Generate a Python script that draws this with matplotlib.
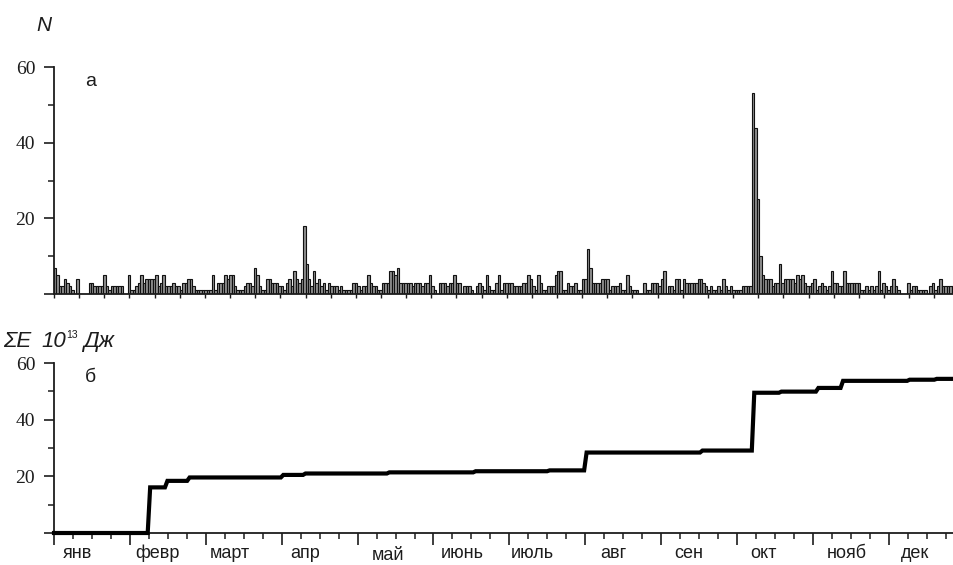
import numpy as np
import matplotlib
matplotlib.use('Agg')
import matplotlib.pyplot as plt

# ---------------- data ----------------
counts_d000 = [7,5,2,2,4,3,2,1,0,4, 0,0,0,0,3,3,2,2,2,2, 5,2,1,2,2,2,2,2,0,0,
               5,1,1,2,3,5,3,4,4,4, 4,5,2,3,5,2,2,2,3,2, 2,1,3,3,4,4,2,1,1,1]
counts_d060 = [1,1,1,1,5,1,3,3,3,5, 4,5,5,2,1,1,1,2,3,3, 2,7,5,2,1,1,4,4,3,3,
               3,2,2,1,3,4,2,6,4,3, 4,18,8,4,2,6,3,4,2,3, 1,3,2,2,2,1]
counts_d116 = [2,1,1,1,1,3,3,2,1,2, 2,5,3,2,2,1,1,3,3,3, 6,6,5,7,3,3,3,3,3,2,
               3,3,3,2,3,3,5,2,1,0, 3,3,3,2,3,3,5,3,3,0, 2,2,2,1,0,2,3,2,1,5,
               2,1,1,3,5]
counts_d181 = [1,3,3,3,3,2,2,2,2,3, 3,5,4,2,1,5,3,1,1,2, 2,2,5,6,6,1,1,3,2,2,
               3,1,1,4,4,12,7,3,3,3, 3,4,4,4,1,2,2,2,3,1, 1,5,2,1,1,1,0,0,3,1, 1]
counts_d242 = [3,3,3,2,4,6,0,2,2,1, 4,4,1,4,3,3,3,3,3,4, 4,3,2,1,2,1,1,2,1,4,
               2,1,2,1,1,1,1,2,2,2, 2,53,44,25,10,5,4,4,4,2, 3,3,8,3,4,4,4,4,3,5, 4]
counts_d303 = [5,3,2,2,3,4,1,2,3,2, 1,2,6,3,3,2,2,6,3,3, 3,3,3,3,1,1,2,1,2,1,
               2,6,1,3,2,1,2,4,2,1, 0,0,0,3,1,2,2,1,1,1, 1,0,2,3,1,2,4,2,2,2, 2,2]
daily_counts = counts_d000 + counts_d060 + counts_d116 + counts_d181 + counts_d242 + counts_d303

# energy events (day of year, energy in 10^13 J)
event_days = [38, 45, 54, 92, 101, 135, 170, 200, 215, 262, 283, 294, 309, 319, 346, 357]
event_energy = [16.1, 2.3, 1.2, 0.9, 0.5, 0.4, 0.4, 0.3, 6.3, 0.7, 20.4, 0.4, 1.3, 2.5, 0.4, 0.3]

month_labels = ['янв', 'февр', 'март', 'апр', 'май', 'июнь',
                'июль', 'авг', 'сен', 'окт', 'нояб', 'дек']

# ---------------- layout helpers ----------------
W, H = 954, 565
N_DAYS = len(daily_counts)
fig = plt.figure(figsize=(W / 100, H / 100), dpi=100)
fig.patch.set_facecolor('white')

def px_axes(l, t, r, b):
    return [l / W, 1 - b / H, (r - l) / W, (b - t) / H]

SANS = ['Liberation Sans', 'DejaVu Sans']
SERIF = ['Liberation Serif', 'DejaVu Serif']
INK = '#1c1c1c'

ax1 = fig.add_axes(px_axes(54, 67, 954, 294))
ax2 = fig.add_axes(px_axes(54, 363, 954, 533))

def style_axes(ax):
    for s in ('top', 'right'):
        ax.spines[s].set_visible(False)
    for s in ('left', 'bottom'):
        ax.spines[s].set_linewidth(1.3)
        ax.spines[s].set_color(INK)
    ax.set_xlim(0, N_DAYS)
    ax.set_ylim(0, 60)
    ax.set_yticks([0, 20, 40, 60])
    ax.set_yticklabels(['', '20', '40', '60'], fontfamily=SERIF, fontsize=14, color=INK)
    ax.set_yticks([10, 30, 50], minor=True)
    ax.tick_params(axis='y', which='major', direction='out', length=7.5, width=1.2, pad=6, color=INK)
    ax.tick_params(axis='y', which='minor', direction='out', length=4.3, width=1.1, color=INK)

# ---------------- panel a ----------------
style_axes(ax1)
days = np.arange(N_DAYS)
ax1.bar(days, daily_counts, width=1.0, align='edge', color='#8e8e8e',
        edgecolor='#111111', linewidth=0.8)
ax1.set_xticks(np.arange(0, N_DAYS + 1, 10.2))
ax1.set_xticklabels([])
ax1.tick_params(axis='x', which='major', direction='out', length=3, width=1.0, color=INK)

# ---------------- panel b ----------------
style_axes(ax2)
daily_energy = np.zeros(N_DAYS)
for d, e in zip(event_days, event_energy):
    daily_energy[d] += e
cum_energy = np.concatenate([[0.0], np.cumsum(daily_energy)])
ax2.plot(np.arange(N_DAYS + 1), cum_energy, color='black', linewidth=3.0,
         solid_joinstyle='miter', clip_on=False, zorder=3)
month_step = 30.78
ax2.set_xticks(np.arange(12) * month_step)
ax2.set_xticks(np.arange(0, N_DAYS, month_step / 4), minor=True)
ax2.set_xticklabels([])
ax2.tick_params(axis='x', which='major', direction='out', length=8.5, width=1.2, color=INK)
ax2.tick_params(axis='x', which='minor', direction='out', length=4.3, width=1.1, color=INK)

label_px = [78, 157, 230, 305, 388, 462, 532, 613, 689, 763, 847, 915]
label_py = [553, 553, 553, 553, 556, 553, 553, 553, 553, 553, 553, 553]
for lab, px, py in zip(month_labels, label_px, label_py):
    fig.text(px / W, 1 - py / H, lab, ha='center', va='center',
             fontfamily=SANS, fontsize=13, color=INK)

# ---------------- annotations ----------------
fig.text(36 / W, 1 - 31 / H, 'N', ha='left', va='baseline', fontfamily=SANS,
         fontstyle='italic', fontsize=15, color=INK)
fig.text(91 / W, 1 - 82 / H, 'а', ha='center', va='center', fontfamily=SANS,
         fontsize=14, color=INK)
fig.text(90 / W, 1 - 377 / H, 'б', ha='center', va='center', fontfamily=SANS,
         fontsize=14, color=INK)
base_y = 1 - 347 / H
fig.text(3 / W, base_y, 'ΣE', ha='left', va='baseline', fontfamily=SANS,
         fontstyle='italic', fontsize=16, color=INK)
fig.text(41 / W, base_y, '10', ha='left', va='baseline', fontfamily=SANS,
         fontstyle='italic', fontsize=16, color=INK)
fig.text(66 / W, 1 - 338 / H, '13', ha='left', va='baseline', fontfamily=SANS,
         fontsize=7.5, color=INK)
fig.text(83 / W, base_y, 'Дж', ha='left', va='baseline', fontfamily=SANS,
         fontstyle='italic', fontsize=16, color=INK)

fig.savefig('out.png', dpi=100)
